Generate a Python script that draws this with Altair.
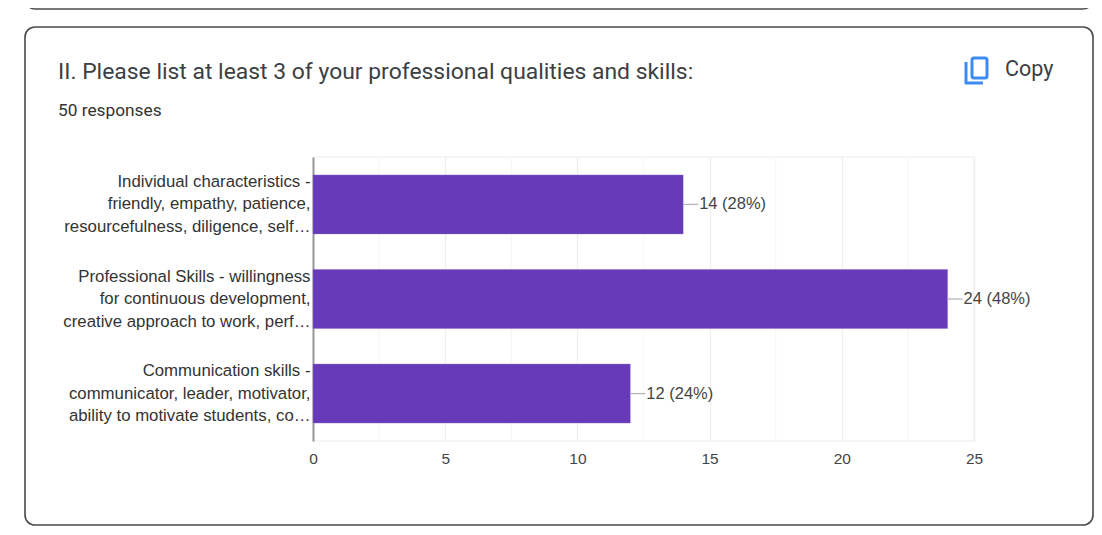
import altair as alt
import pandas as pd

# --- chart values ---
categories = [
    "Individual characteristics -|friendly, empathy, patience,|resourcefulness, diligence, self…",
    "Professional Skills - willingness|for continuous development,|creative approach to work, perf…",
    "Communication skills -|communicator, leader, motivator,|ability to motivate students, co…",
]
counts = [14, 24, 12]
value_labels = ["14 (28%)", "24 (48%)", "12 (24%)"]
major_ticks = [0, 5, 10, 15, 20, 25]
minor_ticks = [2.5, 7.5, 12.5, 17.5, 22.5]
title_text = "II. Please list at least 3 of your professional qualities and skills:"
subtitle_text = "50 responses"
copy_text = "Copy"

# --- layout (page pixels, reference coordinates) ---
PLOT_L, PLOT_T, PLOT_W, PLOT_H = 313, 157, 661, 284
ORIGIN = 8
CHART_W, CHART_H = 1086, 519


def px(x):
    return x - PLOT_L


def py(y):
    return y - PLOT_T


df = pd.DataFrame({"cat": categories, "n": counts, "label": value_labels})
one = alt.Data(values=[{"a": 1}])
FONT = "Liberation Sans"
x_scale = alt.Scale(domain=[0, 25], nice=False, zero=True)
y_scale = alt.Scale(domain=categories, paddingInner=0.377, paddingOuter=0.19)


def box(x1, y1, x2, y2, **kw):
    return alt.Chart(one).mark_rect(**kw).encode(
        x=alt.value(px(x1)), x2=alt.value(px(x2)),
        y=alt.value(py(y1)), y2=alt.value(py(y2)),
    )


def seg(x1, y1, x2, y2, **kw):
    return alt.Chart(one).mark_rule(**kw).encode(
        x=alt.value(px(x1)), x2=alt.value(px(x2)),
        y=alt.value(py(y1)), y2=alt.value(py(y2)),
    )


def label(x, y, text, **kw):
    return alt.Chart(one).mark_text(align="left", baseline="alphabetic", **kw).encode(
        x=alt.value(px(x)), y=alt.value(py(y)), text=alt.value(text),
    )


frame_style = dict(filled=False, stroke="#4a4a4a", strokeWidth=1.6, cornerRadius=10)
upper_card = box(25, -40, 1093, 9, **frame_style)
card = box(25, 27, 1093, 525, **frame_style)

title = label(58, 78.5, title_text, font="Roboto", fontSize=22.9, color="#3c4043")
subtitle = label(58, 116, subtitle_text, font="Roboto", fontSize=17.3, color="#333333")
copy = label(1005, 76, copy_text, font="Roboto", fontSize=21.5, color="#3c4043")

icon_style = dict(color="#3d8bf2", strokeWidth=3)
icon_front = box(972, 58, 987, 78, filled=False, stroke="#3d8bf2", strokeWidth=3, cornerRadius=2)
icon_side = seg(966, 62, 966, 84, **icon_style)
icon_foot = seg(965, 83, 983, 83, **icon_style)

minor_grid = (
    alt.Chart(pd.DataFrame({"v": minor_ticks}))
    .mark_rule(color="#f7f7f7", strokeWidth=1.2)
    .encode(x=alt.X("v:Q", scale=x_scale))
)

bars = (
    alt.Chart(df)
    .mark_bar(color="#673ab7", stroke="#8e6bcc", strokeWidth=0.4)
    .encode(
        x=alt.X(
            "n:Q", scale=x_scale, title=None,
            axis=alt.Axis(
                values=major_ticks, grid=True, gridColor="#eeeeee", gridWidth=1.3,
                domain=False, ticks=False, labelFont=FONT, labelFontSize=15.5,
                labelColor="#444444", labelPadding=10, labelFlush=False,
            ),
        ),
        y=alt.Y(
            "cat:N", scale=y_scale, sort=categories, title=None,
            axis=alt.Axis(
                domain=True, domainColor="#9a9a9a", domainWidth=2, ticks=False,
                labelFont=FONT, labelFontSize=16.8, labelColor="#333333",
                labelPadding=3, labelLimit=300, labelLineHeight=22.5, labelOffset=-22.5,
                labelExpr="split(datum.label, '|')",
            ),
        ),
    )
)

leaders = (
    alt.Chart(df)
    .transform_calculate(end="datum.n + 0.57")
    .mark_rule(color="#b5b5b5", strokeWidth=1.3)
    .encode(
        x=alt.X("n:Q", scale=x_scale),
        x2="end:Q",
        y=alt.Y("cat:N", scale=y_scale, sort=categories, bandPosition=0.5),
    )
)

texts = (
    alt.Chart(df)
    .mark_text(align="left", baseline="middle", dx=16, font=FONT, fontSize=16.5, color="#444444")
    .encode(
        x=alt.X("n:Q", scale=x_scale),
        y=alt.Y("cat:N", scale=y_scale, sort=categories),
        text="label:N",
    )
)

chart = (
    alt.layer(
        upper_card, card, title, subtitle, copy, icon_front, icon_side, icon_foot,
        minor_grid, bars, leaders, texts,
    )
    .resolve_scale(x="shared", y="shared")
    .properties(
        width=PLOT_W,
        height=PLOT_H,
        autosize=alt.AutoSizeParams(type="none"),
        padding={
            "left": PLOT_L - ORIGIN,
            "top": PLOT_T - ORIGIN,
            "right": CHART_W - (PLOT_L - ORIGIN) - PLOT_W,
            "bottom": CHART_H - (PLOT_T - ORIGIN) - PLOT_H,
        },
        background="#ffffff",
    )
    .configure_view(stroke="#f0f0f0", strokeWidth=1.3)
)

chart.save("out.html", embed_options={"renderer": "svg", "actions": False})
